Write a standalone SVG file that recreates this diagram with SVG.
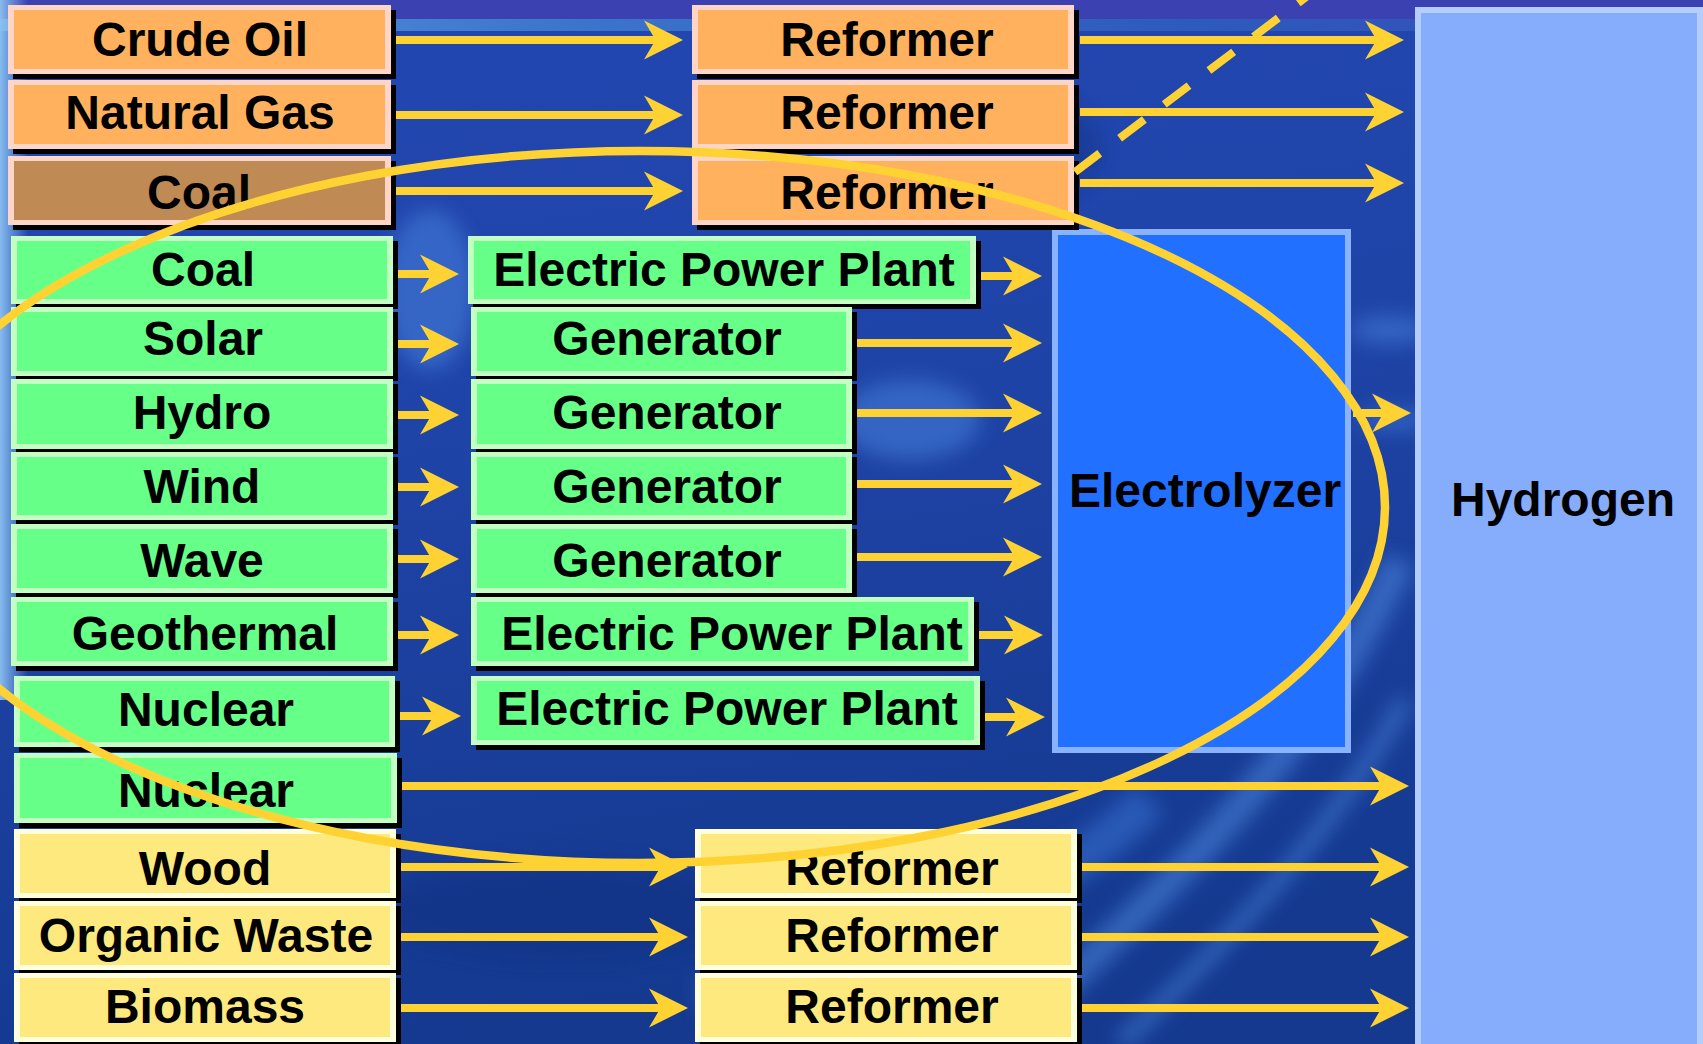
<svg xmlns="http://www.w3.org/2000/svg" width="1703" height="1044" viewBox="0 0 1703 1044">
<defs>
<style>
.t{font-family:"Liberation Sans",Arial,Helvetica,sans-serif;font-weight:bold;font-size:48px;fill:#000;text-anchor:middle}
.sh{fill:#000}
.ob{fill:#FFD5C8}.of{fill:#FFB15E}.cf{fill:#C08A55}
.gb{fill:#C3FFC3}.gf{fill:#66FF88}
.yb{fill:#FFFFDD}.yf{fill:#FDE97D}
.ar{stroke:#FFD233;stroke-width:8;fill:none;marker-end:url(#ah)}
</style>
<marker id="ah" markerUnits="userSpaceOnUse" markerWidth="40" markerHeight="40" refX="14" refY="19.5" orient="auto" overflow="visible">
<path d="M0,0 L39,19.5 L0,39 L11.5,19.5 Z" fill="#FFD233"/>
</marker>
<linearGradient id="bg" x1="0" y1="0" x2="0.25" y2="1">
<stop offset="0" stop-color="#2347b2"/>
<stop offset="0.45" stop-color="#1f44a8"/>
<stop offset="1" stop-color="#14398f"/>
</linearGradient>
<linearGradient id="band" x1="0" y1="0" x2="1" y2="0">
<stop offset="0" stop-color="#63a6e6"/>
<stop offset="0.35" stop-color="#3f7ccf"/>
<stop offset="0.7" stop-color="#2f5ec0"/>
<stop offset="1" stop-color="#3a4fb8"/>
</linearGradient>
<linearGradient id="edge" x1="0" y1="0" x2="1" y2="0">
<stop offset="0" stop-color="#8cc2f2" stop-opacity="0.95"/>
<stop offset="1" stop-color="#8cc2f2" stop-opacity="0"/>
</linearGradient>
<filter id="blur" x="-20%" y="-20%" width="140%" height="140%"><feGaussianBlur stdDeviation="10"/></filter>
</defs>

<g id="background">
<rect x="0" y="0" width="1703" height="1044" fill="url(#bg)"/>
<rect x="0" y="0" width="1703" height="20" fill="#3c41b2"/>
<rect x="0" y="19" width="1703" height="12" fill="url(#band)" opacity="0.85"/>
<rect x="0" y="0" width="28" height="700" fill="url(#edge)"/>
<g filter="url(#blur)" opacity="0.45" fill="#4f8fe8">
<ellipse cx="430" cy="290" rx="45" ry="80"/>
<ellipse cx="910" cy="420" rx="70" ry="40"/>
<ellipse cx="1390" cy="330" rx="40" ry="14"/>
<ellipse cx="1395" cy="420" rx="40" ry="10"/>
<path d="M1000,1044 C1150,900 1300,780 1400,560" stroke="#5a9af0" stroke-width="30" fill="none"/>
<path d="M1120,1044 C1250,920 1340,820 1405,700" stroke="#5a9af0" stroke-width="16" fill="none"/>
<path d="M700,1000 C900,960 1050,900 1150,800" stroke="#3f7fe0" stroke-width="40" fill="none"/>
</g>
<g filter="url(#blur)" opacity="0.35" fill="#0c2a78">
<ellipse cx="560" cy="910" rx="180" ry="50"/>
<ellipse cx="1000" cy="150" rx="100" ry="60"/>
</g>
</g>

<g id="connectors">
<line class="ar" x1="391" y1="40" x2="658" y2="40"/>
<line class="ar" x1="391" y1="115" x2="658" y2="115"/>
<line class="ar" x1="391" y1="191" x2="658" y2="191"/>
<line class="ar" x1="1080" y1="40" x2="1379" y2="40"/>
<line class="ar" x1="1080" y1="112" x2="1379" y2="112"/>
<line class="ar" x1="1080" y1="183" x2="1379" y2="183"/>
<line class="ar" x1="397" y1="274" x2="434" y2="274"/>
<line class="ar" x1="397" y1="344" x2="434" y2="344"/>
<line class="ar" x1="397" y1="415" x2="434" y2="415"/>
<line class="ar" x1="397" y1="487" x2="434" y2="487"/>
<line class="ar" x1="397" y1="559" x2="434" y2="559"/>
<line class="ar" x1="397" y1="635" x2="434" y2="635"/>
<line class="ar" x1="400" y1="716" x2="436" y2="716"/>
<line class="ar" x1="981" y1="276" x2="1017" y2="276"/>
<line class="ar" x1="857" y1="343" x2="1017" y2="343"/>
<line class="ar" x1="857" y1="413" x2="1017" y2="413"/>
<line class="ar" x1="857" y1="484" x2="1017" y2="484"/>
<line class="ar" x1="857" y1="557" x2="1017" y2="557"/>
<line class="ar" x1="979" y1="635" x2="1018" y2="635"/>
<line class="ar" x1="985" y1="717" x2="1020" y2="717"/>
<line class="ar" x1="1353" y1="413" x2="1386" y2="413"/>
<line class="ar" x1="400" y1="786" x2="1384" y2="786"/>
<line class="ar" x1="400" y1="867" x2="663" y2="867"/>
<line class="ar" x1="400" y1="937" x2="663" y2="937"/>
<line class="ar" x1="400" y1="1008" x2="663" y2="1008"/>
<line class="ar" x1="1082" y1="867" x2="1384" y2="867"/>
<line class="ar" x1="1082" y1="937" x2="1384" y2="937"/>
<line class="ar" x1="1082" y1="1008" x2="1384" y2="1008"/>
</g>

<g id="hydrogen">
<rect x="1415" y="7" width="288" height="1050" fill="#B5CCFF"/>
<rect x="1421" y="13" width="276" height="1040" fill="#85ADFC"/>
<text class="t" x="1563" y="516">Hydrogen</text>
</g>
<g id="electrolyzer">
<rect x="1052" y="229" width="299" height="524" fill="#8AB3FF"/>
<rect x="1058" y="235" width="287" height="512" fill="#2170FF"/>
<text class="t" x="1205" y="507">Electrolyzer</text>
</g>

<g id="crude-oil"><rect class="sh" x="13" y="10" width="383" height="69"/><rect class="ob" x="8" y="5" width="383" height="69"/><rect class="of" x="14" y="10" width="371" height="59"/><text class="t" x="200" y="56">Crude Oil</text></g>
<g id="natural-gas"><rect class="sh" x="13" y="85" width="383" height="69"/><rect class="ob" x="8" y="80" width="383" height="69"/><rect class="of" x="14" y="85" width="371" height="59"/><text class="t" x="200" y="129">Natural Gas</text></g>
<g id="coal-fossil"><rect class="sh" x="13" y="161" width="383" height="69"/><rect class="ob" x="8" y="156" width="383" height="69"/><rect class="cf" x="14" y="161" width="371" height="59"/><text class="t" x="199" y="209">Coal</text></g>

<g id="reformer-1"><rect class="sh" x="697" y="10" width="382" height="69"/><rect class="ob" x="692" y="5" width="382" height="69"/><rect class="of" x="698" y="10" width="370" height="59"/><text class="t" x="887" y="56">Reformer</text></g>
<g id="reformer-2"><rect class="sh" x="697" y="85" width="382" height="69"/><rect class="ob" x="692" y="80" width="382" height="69"/><rect class="of" x="698" y="85" width="370" height="59"/><text class="t" x="887" y="129">Reformer</text></g>
<g id="reformer-3"><rect class="sh" x="697" y="161" width="382" height="69"/><rect class="ob" x="692" y="156" width="382" height="69"/><rect class="of" x="698" y="161" width="370" height="59"/><text class="t" x="887" y="209">Reformer</text></g>

<g id="coal"><rect class="sh" x="16" y="241" width="382" height="68"/><rect class="gb" x="11" y="236" width="382" height="68"/><rect class="gf" x="17" y="241" width="370" height="58"/><text class="t" x="203" y="286">Coal</text></g>
<g id="solar"><rect class="sh" x="16" y="312" width="382" height="69"/><rect class="gb" x="11" y="307" width="382" height="69"/><rect class="gf" x="17" y="312" width="370" height="59"/><text class="t" x="203" y="355">Solar</text></g>
<g id="hydro"><rect class="sh" x="16" y="384" width="382" height="70"/><rect class="gb" x="11" y="379" width="382" height="70"/><rect class="gf" x="17" y="384" width="370" height="60"/><text class="t" x="202" y="429">Hydro</text></g>
<g id="wind"><rect class="sh" x="16" y="457" width="382" height="68"/><rect class="gb" x="11" y="452" width="382" height="68"/><rect class="gf" x="17" y="457" width="370" height="58"/><text class="t" x="202" y="503">Wind</text></g>
<g id="wave"><rect class="sh" x="16" y="529" width="382" height="69"/><rect class="gb" x="11" y="524" width="382" height="69"/><rect class="gf" x="17" y="529" width="370" height="59"/><text class="t" x="202" y="577">Wave</text></g>
<g id="geothermal"><rect class="sh" x="16" y="602" width="382" height="69"/><rect class="gb" x="11" y="597" width="382" height="69"/><rect class="gf" x="17" y="602" width="370" height="59"/><text class="t" x="205" y="650">Geothermal</text></g>
<g id="nuclear-1"><rect class="sh" x="19" y="681" width="381" height="71"/><rect class="gb" x="14" y="676" width="381" height="71"/><rect class="gf" x="20" y="681" width="369" height="61"/><text class="t" x="206" y="726">Nuclear</text></g>
<g id="nuclear-2"><rect class="sh" x="19" y="758" width="383" height="70"/><rect class="gb" x="14" y="753" width="383" height="70"/><rect class="gf" x="20" y="758" width="371" height="60"/><text class="t" x="206" y="807">Nuclear</text></g>

<g id="power-plant-1"><rect class="sh" x="473" y="241" width="508" height="68"/><rect class="gb" x="468" y="236" width="508" height="68"/><rect class="gf" x="474" y="241" width="496" height="58"/><text class="t" x="724" y="286">Electric Power Plant</text></g>
<g id="generator-1"><rect class="sh" x="476" y="312" width="381" height="69"/><rect class="gb" x="471" y="307" width="381" height="69"/><rect class="gf" x="477" y="312" width="369" height="59"/><text class="t" x="667" y="355">Generator</text></g>
<g id="generator-2"><rect class="sh" x="476" y="384" width="381" height="70"/><rect class="gb" x="471" y="379" width="381" height="70"/><rect class="gf" x="477" y="384" width="369" height="60"/><text class="t" x="667" y="429">Generator</text></g>
<g id="generator-3"><rect class="sh" x="476" y="457" width="381" height="68"/><rect class="gb" x="471" y="452" width="381" height="68"/><rect class="gf" x="477" y="457" width="369" height="58"/><text class="t" x="667" y="503">Generator</text></g>
<g id="generator-4"><rect class="sh" x="476" y="529" width="381" height="69"/><rect class="gb" x="471" y="524" width="381" height="69"/><rect class="gf" x="477" y="529" width="369" height="59"/><text class="t" x="667" y="577">Generator</text></g>
<g id="power-plant-2"><rect class="sh" x="476" y="602" width="503" height="69"/><rect class="gb" x="471" y="597" width="503" height="69"/><rect class="gf" x="477" y="602" width="491" height="59"/><text class="t" x="732" y="650">Electric Power Plant</text></g>
<g id="power-plant-3"><rect class="sh" x="476" y="681" width="509" height="69"/><rect class="gb" x="471" y="676" width="509" height="69"/><rect class="gf" x="477" y="681" width="497" height="59"/><text class="t" x="727" y="725">Electric Power Plant</text></g>

<g id="wood"><rect class="sh" x="19" y="834" width="382" height="69"/><rect class="yb" x="14" y="829" width="382" height="69"/><rect class="yf" x="20" y="834" width="370" height="59"/><text class="t" x="205" y="885">Wood</text></g>
<g id="organic-waste"><rect class="sh" x="19" y="906" width="382" height="69"/><rect class="yb" x="14" y="901" width="382" height="69"/><rect class="yf" x="20" y="906" width="370" height="59"/><text class="t" x="206" y="952">Organic Waste</text></g>
<g id="biomass"><rect class="sh" x="19" y="978" width="382" height="69"/><rect class="yb" x="14" y="973" width="382" height="69"/><rect class="yf" x="20" y="978" width="370" height="59"/><text class="t" x="205" y="1023">Biomass</text></g>

<g id="reformer-4"><rect class="sh" x="700" y="834" width="382" height="69"/><rect class="yb" x="695" y="829" width="382" height="69"/><rect class="yf" x="701" y="834" width="370" height="59"/><text class="t" x="892" y="885">Reformer</text></g>
<g id="reformer-5"><rect class="sh" x="700" y="906" width="382" height="69"/><rect class="yb" x="695" y="901" width="382" height="69"/><rect class="yf" x="701" y="906" width="370" height="59"/><text class="t" x="892" y="952">Reformer</text></g>
<g id="reformer-6"><rect class="sh" x="700" y="978" width="382" height="69"/><rect class="yb" x="695" y="973" width="382" height="69"/><rect class="yf" x="701" y="978" width="370" height="59"/><text class="t" x="892" y="1023">Reformer</text></g>

<g id="overlay">
<line x1="1075" y1="172" x2="1310" y2="-6" stroke="#FFD233" stroke-width="8" stroke-dasharray="31 25"/>
<ellipse cx="640" cy="507" rx="745" ry="356" fill="none" stroke="#FFD233" stroke-width="8.5"/>
</g>
</svg>
